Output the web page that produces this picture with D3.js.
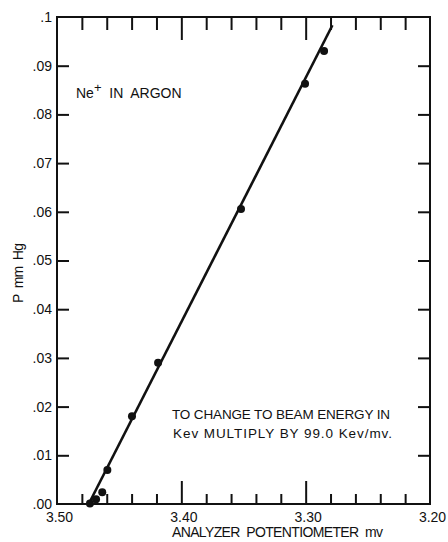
<!DOCTYPE html>
<html>
<head>
<meta charset="utf-8">
<script src="https://cdnjs.cloudflare.com/ajax/libs/d3/7.8.5/d3.min.js"></script>
<style>
  body { margin: 0; background: #fff; }
  svg text { font-family: "Liberation Sans", Arial, sans-serif; fill: #111; white-space: pre; }
  .axis path.domain { display: none; }
  .axis line { stroke: #111; stroke-width: 2; }
</style>
</head>
<body>
<svg id="canvas" width="448" height="542"></svg>
<script>
// measured points: analyzer potentiometer (mv) vs pressure (mm Hg)
const potentiometer = [3.4735, 3.4686, 3.4636, 3.4595, 3.4397, 3.4187, 3.3520, 3.3005, 3.2852];
const pressure = [0.0001, 0.0010, 0.0024, 0.0070, 0.0180, 0.0290, 0.0606, 0.0863, 0.0930];

// drawn straight line (end points)
const fitX = [3.4745, 3.2785];
const fitY = [0.0, 0.0983];

// ticks
const xMinorTicks = [3.48, 3.46, 3.44, 3.42, 3.38, 3.36, 3.34, 3.32, 3.28, 3.26, 3.24, 3.22];
const xMajorTicks = [3.40, 3.30];
const xLabels = [3.50, 3.40, 3.30, 3.20];
const yTicks = [0.01, 0.02, 0.03, 0.04, 0.05, 0.06, 0.07, 0.08, 0.09];
const yLabels = [0.00, 0.01, 0.02, 0.03, 0.04, 0.05, 0.06, 0.07, 0.08, 0.09, 0.1];

var margin = { top: 17, right: 18, bottom: 38, left: 57 },
    width = 448 - margin.left - margin.right,
    height = 542 - margin.top - margin.bottom;

var svg = d3.select("#canvas")
    .append("g")
    .attr("transform", "translate(" + margin.left + "," + margin.top + ")");

var x = d3.scaleLinear().domain([3.50, 3.20]).range([0, width]);
var y = d3.scaleLinear().domain([0, 0.1]).range([height, 0]);

// frame
svg.append("rect")
    .attr("x", 0).attr("y", 0)
    .attr("width", width).attr("height", height)
    .attr("fill", "none")
    .attr("stroke", "#111")
    .attr("stroke-width", 2);

// bottom ticks (inward)
svg.append("g").attr("class", "axis")
    .attr("transform", "translate(0," + height + ")")
    .call(d3.axisBottom(x).tickValues(xMinorTicks).tickSize(-10).tickFormat(""));
svg.append("g").attr("class", "axis")
    .attr("transform", "translate(0," + height + ")")
    .call(d3.axisBottom(x).tickValues(xMajorTicks).tickSize(-23).tickFormat(""));

// top ticks (inward)
svg.append("g").attr("class", "axis")
    .call(d3.axisTop(x).tickValues(xMinorTicks).tickSize(-13).tickFormat(""));
svg.append("g").attr("class", "axis")
    .call(d3.axisTop(x).tickValues(xMajorTicks).tickSize(-23).tickFormat(""));

// left / right ticks (inward)
svg.append("g").attr("class", "axis")
    .call(d3.axisLeft(y).tickValues(yTicks).tickSize(-12).tickFormat(""));
svg.append("g").attr("class", "axis")
    .attr("transform", "translate(" + width + ",0)")
    .call(d3.axisRight(y).tickValues(yTicks).tickSize(-12).tickFormat(""));

// tick labels
var xl = svg.append("g").attr("class", "axis")
    .attr("transform", "translate(0," + height + ")")
    .call(d3.axisBottom(x).tickValues(xLabels).tickSize(0).tickPadding(8)
        .tickFormat(d3.format(".2f")));
xl.selectAll("text").attr("font-size", 14).attr("dx", 2);

var yl = svg.append("g").attr("class", "axis")
    .call(d3.axisLeft(y).tickValues(yLabels).tickSize(0).tickPadding(5)
        .tickFormat(d => d === 0.1 ? ".1" : d3.format(".2f")(d).replace(/^0/, "")));
yl.selectAll("text").attr("font-size", 14);

// axis titles
svg.append("text")
    .attr("x", 115).attr("y", height + 33)
    .attr("font-size", 14)
    .attr("textLength", 211)
    .attr("lengthAdjust", "spacing")
    .text("ANALYZER  POTENTIOMETER  mv");

svg.append("text")
    .attr("transform", "translate(" + (-34) + "," + 256 + ") rotate(-90)")
    .attr("text-anchor", "middle")
    .attr("font-size", 14)
    .attr("textLength", 60)
    .attr("lengthAdjust", "spacing")
    .text("P  mm  Hg");

// annotations
var ne = svg.append("text")
    .attr("x", 19).attr("y", 81)
    .attr("font-size", 14);
ne.append("tspan").text("Ne");
ne.append("tspan").attr("dy", -6).attr("font-size", 13).text("+");
ne.append("tspan").attr("dy", 6).text("  IN  ARGON");

svg.append("text")
    .attr("x", 115).attr("y", 402)
    .attr("font-size", 13.5)
    .attr("textLength", 218)
    .attr("lengthAdjust", "spacing")
    .text("TO CHANGE TO BEAM ENERGY IN");
svg.append("text")
    .attr("x", 116).attr("y", 421)
    .attr("font-size", 13.5)
    .attr("textLength", 219)
    .attr("lengthAdjust", "spacing")
    .text("Kev MULTIPLY BY 99.0 Kev/mv.");

// fitted line
svg.append("line")
    .attr("x1", x(fitX[0])).attr("y1", y(fitY[0]))
    .attr("x2", x(fitX[1])).attr("y2", y(fitY[1]))
    .attr("stroke", "#111")
    .attr("stroke-width", 2.6);

// points
svg.selectAll(".pt")
    .data(potentiometer)
    .enter()
    .append("circle")
    .attr("class", "pt")
    .attr("cx", d => x(d))
    .attr("cy", (d, i) => y(pressure[i]))
    .attr("r", 4)
    .attr("fill", "#111");
</script>
</body>
</html>
